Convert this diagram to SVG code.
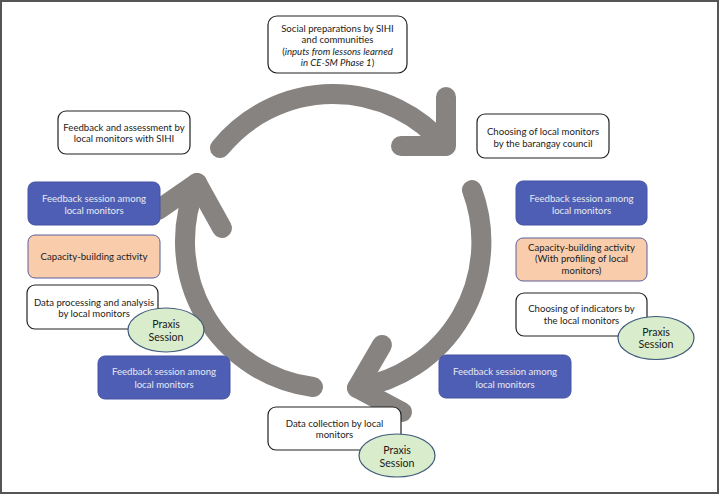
<svg xmlns="http://www.w3.org/2000/svg" width="720" height="495" viewBox="0 0 720 495">
<style>
.t{font-family:Lato,"Open Sans","Liberation Sans",sans-serif;font-size:9.6px;fill:#222;text-anchor:middle}
.tw{font-family:Lato,"Open Sans","Liberation Sans",sans-serif;font-size:9.6px;fill:#e8e9f2;text-anchor:middle}
.tp{font-family:Lato,"Open Sans","Liberation Sans",sans-serif;font-size:10.6px;fill:#1a1a1a;text-anchor:middle}
.wb{fill:#fff;stroke:#222;stroke-width:1.2}
.bb{fill:#4e5eb4;stroke:#4453a3;stroke-width:1}
.pb{fill:#f9cdac;stroke:#5b5e9c;stroke-width:1}
.el{fill:#d9eccb;stroke:#3f5a7a;stroke-width:1.2}
.ar{fill:none;stroke:#878381;stroke-width:20;stroke-linecap:round;stroke-linejoin:round}
</style>
<rect x="1" y="1" width="717" height="492" fill="#fff" stroke="#555" stroke-width="2"/>
<g id="connectors">
<path class="ar" d="M 220 148 A 146 146 0 0 1 445 146"/>
<path class="ar" d="M 446 97 L 446 146 L 401 146"/>
<path class="ar" d="M 472 190 A 148 148 0 0 1 357 388"/>
<path class="ar" d="M 382 345 L 357 388 L 402 412"/>
<path class="ar" d="M 313 387 A 147 147 0 0 1 197 183"/>
<path class="ar" d="M 158 210 L 197 183 L 222 228"/>
</g>
<g id="social-preparations">
<rect class="wb" x="268" y="16" width="139" height="57" rx="9"/>
<text class="t" x="337.5" y="31.5">Social preparations by SIHI</text>
<text class="t" x="337.5" y="43">and communities</text>
<text class="t" x="337.5" y="54.5">(<tspan font-style="italic">inputs from lessons learned</tspan></text>
<text class="t" x="337.5" y="66"><tspan font-style="italic">in CE-SM Phase 1</tspan>)</text>
</g>
<g id="feedback-assessment">
<rect class="wb" x="58" y="111" width="132" height="43" rx="8"/>
<text class="t" x="124" y="130.5">Feedback and assessment by</text>
<text class="t" x="124" y="141.5">local monitors with SIHI</text>
</g>
<g id="feedback-left-1">
<rect class="bb" x="28" y="182" width="132" height="43" rx="7"/>
<text class="tw" x="94" y="201.5">Feedback session among</text>
<text class="tw" x="94" y="213.5">local monitors</text>
</g>
<g id="capacity-left">
<rect class="pb" x="28" y="235" width="132" height="43" rx="7"/>
<text class="t" x="94" y="259.5">Capacity-building activity</text>
</g>
<g id="data-processing">
<rect class="wb" x="27" y="285" width="131" height="44" rx="8"/>
<text class="t" x="94" y="305.5">Data processing and analysis</text>
<text class="t" x="94" y="316.5">by local monitors</text>
</g>
<g id="praxis-left">
<ellipse class="el" cx="166" cy="330" rx="38" ry="22"/>
<text class="tp" x="166" y="327.5">Praxis</text>
<text class="tp" x="166" y="340.5">Session</text>
</g>
<g id="feedback-left-2">
<rect class="bb" x="98" y="356" width="132" height="43" rx="7"/>
<text class="tw" x="164" y="374.5">Feedback session among</text>
<text class="tw" x="164" y="387.5">local monitors</text>
</g>
<g id="choosing-monitors">
<rect class="wb" x="477" y="114" width="132" height="44" rx="8"/>
<text class="t" x="543" y="134.5">Choosing of local monitors</text>
<text class="t" x="543" y="146.5">by the barangay council</text>
</g>
<g id="feedback-right-1">
<rect class="bb" x="516" y="181" width="131" height="44" rx="7"/>
<text class="tw" x="581.5" y="201.5">Feedback session among</text>
<text class="tw" x="581.5" y="213.5">local monitors</text>
</g>
<g id="capacity-right">
<rect class="pb" x="516" y="238" width="131" height="43" rx="7"/>
<text class="t" x="581.5" y="250.5">Capacity-building activity</text>
<text class="t" x="581.5" y="262">(With profiling of local</text>
<text class="t" x="581.5" y="273.5">monitors)</text>
</g>
<g id="choosing-indicators">
<rect class="wb" x="516" y="293" width="131" height="43" rx="8"/>
<text class="t" x="581.5" y="311.5">Choosing of indicators by</text>
<text class="t" x="581.5" y="323.5">the local monitors</text>
</g>
<g id="praxis-right">
<ellipse class="el" cx="656" cy="338" rx="38" ry="21.5"/>
<text class="tp" x="656" y="335.5">Praxis</text>
<text class="tp" x="656" y="347.5">Session</text>
</g>
<g id="feedback-right-2">
<rect class="bb" x="439" y="355" width="132" height="43" rx="7"/>
<text class="tw" x="505" y="374.5">Feedback session among</text>
<text class="tw" x="505" y="387.5">local monitors</text>
</g>
<g id="data-collection">
<rect class="wb" x="268" y="407" width="133" height="43" rx="8"/>
<text class="t" x="334.5" y="426.5">Data collection by local</text>
<text class="t" x="334.5" y="437.5">monitors</text>
</g>
<g id="praxis-bottom">
<ellipse class="el" cx="397" cy="455.5" rx="38" ry="21.5"/>
<text class="tp" x="397" y="453.5">Praxis</text>
<text class="tp" x="397" y="466.5">Session</text>
</g>
</svg>
